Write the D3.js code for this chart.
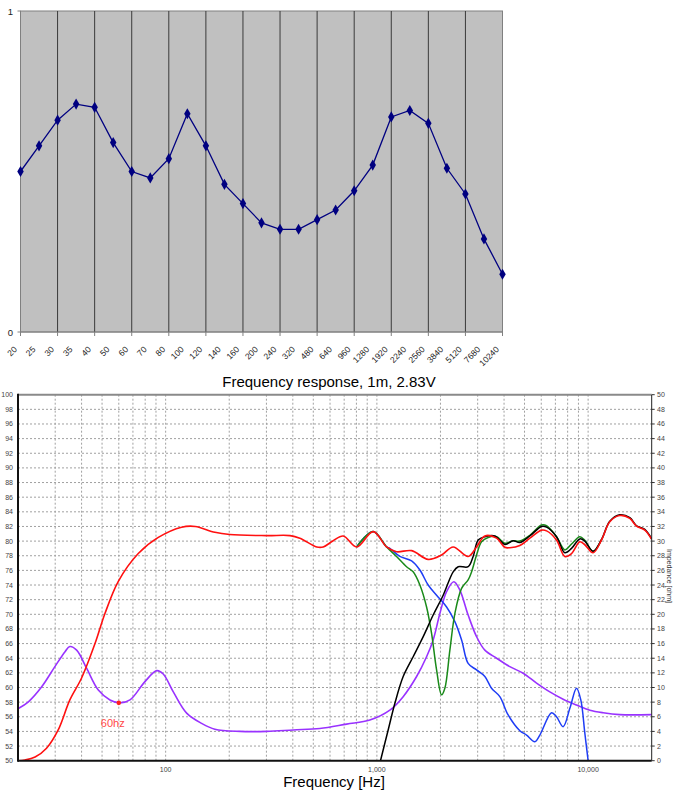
<!DOCTYPE html>
<html><head><meta charset="utf-8">
<script src="https://cdn.jsdelivr.net/npm/d3@7"></script>
<style>body{margin:0;background:#fff}svg{display:block;font-family:"Liberation Sans",Arial,sans-serif}</style>
</head><body><svg id="c" width="676" height="800"></svg>
<script>
// ---------- Top chart data ----------
const topCategories = ["20","25","30","35","40","50","60","70","80","100","120","140","160","200","240","320","480","640","960","1280","1920","2240","2560","3840","5120","7680","10240"];
const topValues = [0.50,0.58,0.66,0.71,0.70,0.59,0.50,0.48,0.54,0.68,0.58,0.46,0.40,0.34,0.32,0.32,0.35,0.38,0.44,0.52,0.67,0.69,0.65,0.51,0.43,0.29,0.18];
const topYTicks = [0,1];
const topTitle = "Frequency response, 1m, 2.83V";

// ---------- Bottom chart data: [frequency Hz, dB] ----------
const splTotal = [[20,50.0],[21.6,50.1],[24.1,50.5],[27.3,51.7],[31,54.2],[35.2,58.3],[40,61.3],[46.3,66.0],[51.6,70.1],[59.7,74.5],[74.2,78.3],[92.3,80.5],[119,81.9],[138,82.0],[171,81.2],[201,80.9],[300,80.75],[388,80.75],[432,80.4],[519,79.2],[557,79.2],[621,80.05],[693,80.7],[802,79.2],[961,81.3],[1112,79.2],[1239,78.55],[1460,78.7],[1749,77.5],[2024,78.1],[2297,79.2],[2704,77.9],[2964,79.2],[3245,80.7],[3687,80.4],[4035,79.15],[4260,79.1],[4751,79.4],[5298,80.4],[6020,81.5],[6357,81.4],[7087,80.15],[7759,77.9],[8346,78.3],[9133,79.9],[9646,79.5],[10560,78.4],[11572,80.15],[12666,82.65],[14126,83.5],[15754,83.1],[16948,82.05],[18550,81.5],[20000,80.25]];
const splBlack = [[1040,50.0],[1131,54.2],[1217,57.85],[1332,61.5],[1485,64.2],[1657,66.95],[1847,69.9],[2060,72.6],[2297,75.8],[2426,76.5],[2704,76.5],[2856,77.9],[3017,80.15],[3245,80.6],[3618,80.7],[4035,79.55],[4416,80.05],[4751,79.8],[5298,80.7],[6020,82.0],[6357,81.9],[7087,80.6],[7759,78.4],[8346,79.0],[9133,80.3],[9646,80.0],[10560,78.6],[11572,80.2],[12666,82.7],[14126,83.6],[15754,83.2],[16948,82.1],[18550,81.6],[20000,80.3]];
const splGreen = [[802,79.2],[961,81.3],[1112,79.2],[1239,77.9],[1382,76.5],[1485,75.8],[1598,74.0],[1719,71.0],[1815,67.4],[1917,62.4],[2024,59.0],[2098,59.9],[2216,65.1],[2340,70.1],[2518,73.55],[2704,74.7],[2808,75.8],[2964,78.1],[3130,79.9],[3364,80.5],[3687,80.6],[4035,79.7],[4416,80.05],[4751,80.0],[5298,80.8],[6020,82.2],[6357,82.1],[7087,80.6],[7759,78.8],[8346,79.6],[9133,80.6],[9646,80.1],[10560,78.6],[11572,80.2]];
const splBlue = [[802,79.2],[961,81.3],[1112,79.2],[1152,79.0],[1285,77.9],[1460,77.3],[1598,76.05],[1749,74.0],[1917,72.6],[2138,71.0],[2340,69.0],[2518,66.5],[2704,63.3],[2964,62.4],[3245,61.5],[3490,59.9],[3820,58.75],[4182,56.25],[4751,54.1],[5112,53.5],[5596,52.6],[5908,53.5],[6714,56.55],[7087,56.0],[7616,54.65],[8194,57.15],[8814,59.9],[9234,58.3],[9646,53.8],[10000,50.0]];
// impedance [frequency Hz, ohm]
const impedance = [[20,7.1],[22.4,8.05],[25.9,10.1],[29.9,12.85],[33.4,14.9],[35.2,15.6],[37.9,15.1],[42.3,12.6],[48,9.65],[54.5,8.3],[60.8,7.9],[67.8,8.3],[79.8,10.8],[90.7,12.3],[97.4,11.85],[108.7,9.4],[125.7,6.5],[148,5.1],[171,4.3],[225,4.0],[301,4.0],[402,4.2],[537,4.4],[719,5.0],[926,5.55],[1152,6.9],[1332,8.75],[1542,11.5],[1719,14.2],[1847,16.5],[1987,20.1],[2138,23.1],[2314,24.45],[2471,23.3],[2704,19.9],[2964,16.95],[3245,15.1],[3687,14.0],[4260,12.85],[4926,11.95],[5700,10.6],[6588,9.4],[7616,8.4],[8814,7.6],[10190,6.9],[11780,6.55],[14126,6.3],[20000,6.3]];
const markerPoint = [60, 57.9];
const markerLabel = "60hz";
const xTickLabels = [100, 1000, 10000];
const bottomXTitle = "Frequency [Hz]";
const rightAxisTitle = "Impedance [ohm]";

const svg = d3.select("#c");

// ================= TOP CHART =================
const tL = 20.5, tR = 502.5, tT = 11, tB = 332;
const xT = d3.scalePoint().domain(topCategories).range([tL, tR]);
const yT = d3.scaleLinear().domain([0, 1]).range([tB, tT]);

svg.append("rect").attr("x", tL).attr("y", tT).attr("width", tR - tL).attr("height", tB - tT)
  .attr("fill", "#c0c0c0").attr("stroke", "#808080").attr("stroke-width", 1);

const gridCats = topCategories.filter((c, i) => i % 2 === 0 && i > 0 && i < topCategories.length - 1);
svg.append("g").selectAll("line").data(gridCats).join("line")
  .attr("x1", d => xT(d)).attr("x2", d => xT(d)).attr("y1", tT).attr("y2", tB)
  .attr("stroke", "#3a3a3a").attr("stroke-width", 1);

// bottom axis ticks
const tickCats = topCategories.filter((c, i) => i % 2 === 0);
svg.append("g").selectAll("line").data(tickCats).join("line")
  .attr("x1", d => xT(d)).attr("x2", d => xT(d)).attr("y1", tB).attr("y2", tB + 4)
  .attr("stroke", "#808080");
svg.append("line").attr("x1", tL).attr("x2", tR).attr("y1", tB).attr("y2", tB).attr("stroke", "#808080");
svg.append("line").attr("x1", tL).attr("x2", tL).attr("y1", tT).attr("y2", tB).attr("stroke", "#808080");

// y ticks
svg.append("g").selectAll("line").data(topYTicks).join("line")
  .attr("x1", tL - 3).attr("x2", tL).attr("y1", d => yT(d)).attr("y2", d => yT(d)).attr("stroke", "#808080");
svg.append("g").selectAll("text").data(topYTicks).join("text")
  .attr("x", 13).attr("y", d => yT(d) + 3.5).attr("text-anchor", "end")
  .attr("font-size", 9.5).attr("fill", "#222").text(d => d);

// x labels rotated
svg.append("g").selectAll("text").data(topCategories).join("text")
  .attr("transform", d => `translate(${xT(d) - 3},${tB + 18}) rotate(-45)`)
  .attr("text-anchor", "end").attr("font-size", 8.5).attr("fill", "#222").text(d => d);

// line + markers
const lineT = d3.line().x((d, i) => xT(topCategories[i])).y(d => yT(d));
svg.append("path").datum(topValues).attr("d", lineT).attr("fill", "none")
  .attr("stroke", "#000080").attr("stroke-width", 1.3);
svg.append("g").selectAll("path").data(topValues).join("path")
  .attr("d", d3.symbol(d3.symbolDiamond, 36))
  .attr("transform", (d, i) => `translate(${xT(topCategories[i])},${yT(d)})`)
  .attr("fill", "#000080");

svg.append("text").attr("x", 329).attr("y", 387).attr("text-anchor", "middle")
  .attr("font-size", 15).attr("fill", "#000").text(topTitle);

// ================= BOTTOM CHART =================
const bL = 18, bR = 651.7, bT = 394.7, bB = 760.7;
const xB = d3.scaleLog().domain([20, 20000]).range([bL, bR]);
const yB = d3.scaleLinear().domain([50, 100]).range([bB, bT]);
const yR = d3.scaleLinear().domain([0, 50]).range([bB, bT]);

const vGrid = xB.ticks().filter(f => f > 20 && f < 20000);
svg.append("g").selectAll("line").data(vGrid).join("line")
  .attr("x1", d => xB(d)).attr("x2", d => xB(d)).attr("y1", bT).attr("y2", bB)
  .attr("stroke", "#a0a0a0").attr("stroke-width", 1).attr("stroke-dasharray", "2,2");
const hTicks = yB.ticks(25);
svg.append("g").selectAll("line").data(hTicks.filter(v => v > 50 && v < 100)).join("line")
  .attr("x1", bL).attr("x2", bR).attr("y1", d => yB(d)).attr("y2", d => yB(d))
  .attr("stroke", "#a0a0a0").attr("stroke-width", 1).attr("stroke-dasharray", "2,2");

// left labels
svg.append("g").selectAll("text").data(hTicks).join("text")
  .attr("x", 13).attr("y", d => yB(d) + 2.5).attr("text-anchor", "end")
  .attr("font-size", 7).attr("fill", "#444").text(d => d);
// right labels
const rTicks = yR.ticks(25);
svg.append("g").selectAll("line").data(rTicks).join("line")
  .attr("x1", bR).attr("x2", bR + 3).attr("y1", d => yR(d)).attr("y2", d => yR(d)).attr("stroke", "#333");
svg.append("g").selectAll("text").data(rTicks).join("text")
  .attr("x", 657).attr("y", d => yR(d) + 2.5).attr("text-anchor", "start")
  .attr("font-size", 7).attr("fill", "#444").text(d => d);
svg.append("text").attr("transform", `translate(667,576) rotate(90)`).attr("text-anchor", "middle")
  .attr("font-size", 7).attr("fill", "#333").text(rightAxisTitle);

// x labels
svg.append("g").selectAll("text").data(xTickLabels).join("text")
  .attr("x", d => xB(d)).attr("y", 772).attr("text-anchor", "middle")
  .attr("font-size", 7).attr("fill", "#444").text(d => d3.format(",")(d));
svg.append("text").attr("x", 334).attr("y", 787).attr("text-anchor", "middle")
  .attr("font-size", 15).attr("fill", "#000").text(bottomXTitle);

// curves
svg.append("clipPath").attr("id", "pc").append("rect")
  .attr("x", bL).attr("y", bT).attr("width", bR - bL).attr("height", bB - bT);
const gC = svg.append("g").attr("clip-path", "url(#pc)");
const lineDB = d3.line().x(d => xB(d[0])).y(d => yB(d[1])).curve(d3.curveCatmullRom.alpha(0.5));
const lineOhm = d3.line().x(d => xB(d[0])).y(d => yR(d[1])).curve(d3.curveCatmullRom.alpha(0.5));

gC.append("path").datum(impedance).attr("d", lineOhm).attr("fill", "none").attr("stroke", "#9932ff").attr("stroke-width", 1.6);
gC.append("path").datum(splBlue).attr("d", lineDB).attr("fill", "none").attr("stroke", "#1f3df5").attr("stroke-width", 1.5);
gC.append("path").datum(splGreen).attr("d", lineDB).attr("fill", "none").attr("stroke", "#1a8a1a").attr("stroke-width", 1.5);
gC.append("path").datum(splBlack).attr("d", lineDB).attr("fill", "none").attr("stroke", "#000").attr("stroke-width", 1.5);
gC.append("path").datum(splTotal).attr("d", lineDB).attr("fill", "none").attr("stroke", "#ff1010").attr("stroke-width", 1.6);

// marker
svg.append("circle").attr("cx", xB(markerPoint[0])).attr("cy", yB(markerPoint[1])).attr("r", 2.3).attr("fill", "#ff2020");
svg.append("text").attr("x", xB(markerPoint[0]) - 6).attr("y", 727).attr("text-anchor", "middle")
  .attr("font-size", 11).attr("fill", "#ff4848").text(markerLabel);

// borders
svg.append("line").attr("x1", bL).attr("x2", bR).attr("y1", bT).attr("y2", bT).attr("stroke", "#8a8a8a").attr("stroke-width", 2);
svg.append("line").attr("x1", bR).attr("x2", bR).attr("y1", bT).attr("y2", bB).attr("stroke", "#222").attr("stroke-width", 1);
svg.append("line").attr("x1", bL).attr("x2", bL).attr("y1", bT - 1).attr("y2", bB + 1).attr("stroke", "#111").attr("stroke-width", 2);
svg.append("line").attr("x1", bL).attr("x2", bR).attr("y1", bB).attr("y2", bB).attr("stroke", "#111").attr("stroke-width", 2);
</script></body></html>
